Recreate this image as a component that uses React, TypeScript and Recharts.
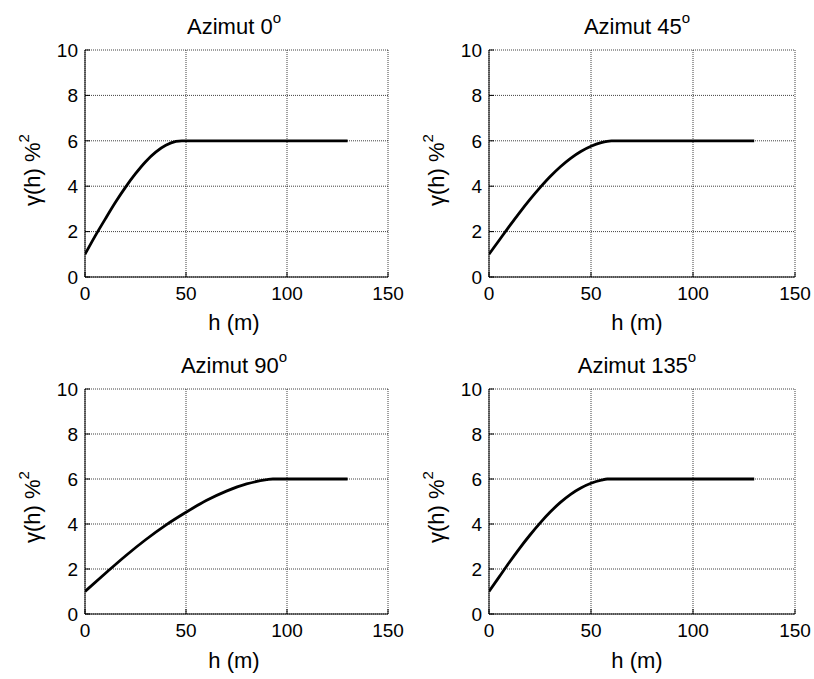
import React from 'react';
import { LineChart, Line, XAxis, YAxis, CartesianGrid } from 'recharts';

const FONT = '"Liberation Sans", Arial, Helvetica, sans-serif';

const xTicks = [0, 50, 100, 150];
const yTicks = [0, 2, 4, 6, 8, 10];
const azimuths = ['0', '45', '90', '135'];

const h0 = [0, 5, 10, 15, 20, 25, 30, 35, 40, 45, 48, 130];
const g0 = [1.0, 1.8, 2.55, 3.28, 3.95, 4.55, 5.08, 5.5, 5.8, 5.97, 6, 6];

const h45 = [0, 5, 10, 15, 20, 25, 30, 35, 40, 45, 50, 55, 60, 130];
const g45 = [1.0, 1.62, 2.24, 2.84, 3.41, 3.94, 4.43, 4.86, 5.23, 5.53, 5.76, 5.92, 6, 6];

const h90 = [0, 10, 20, 30, 40, 50, 60, 70, 80, 90, 93, 130];
const g90 = [1.0, 1.8, 2.58, 3.3, 3.95, 4.52, 5.04, 5.46, 5.78, 5.97, 6, 6];

const h135 = [0, 5, 10, 15, 20, 25, 30, 35, 40, 45, 50, 55, 58, 130];
const g135 = [1.0, 1.65, 2.3, 2.92, 3.5, 4.04, 4.53, 4.96, 5.32, 5.6, 5.81, 5.95, 6, 6];

const build = (hs: number[], gs: number[]) => hs.map((h, i) => ({ h, g: gs[i] }));

const datasets = [build(h0, g0), build(h45, g45), build(h90, g90), build(h135, g135)];

type Panel = {
  left: number;
  top: number;
  margin: { top: number; right: number; bottom: number; left: number };
  cx: number;
  titleY: number;
  xLabelY: number;
  yLabelX: number;
  yLabelY: number;
};

const panels: Panel[] = [
  { left: 0, top: 0, margin: { top: 50, right: 19, bottom: 33, left: 45 }, cx: 234, titleY: 34, xLabelY: 330, yLabelX: 40, yLabelY: 170 },
  { left: 407, top: 0, margin: { top: 50, right: 19, bottom: 33, left: 42 }, cx: 637, titleY: 34, xLabelY: 330, yLabelX: 444, yLabelY: 170 },
  { left: 0, top: 340, margin: { top: 49, right: 19, bottom: 36, left: 45 }, cx: 234, titleY: 373, xLabelY: 668, yLabelX: 40, yLabelY: 507 },
  { left: 407, top: 340, margin: { top: 49, right: 19, bottom: 36, left: 42 }, cx: 637, titleY: 373, xLabelY: 668, yLabelX: 444, yLabelY: 507 },
];

const tickStyle = { fill: '#000', fontSize: 19, fontFamily: FONT };

function Chart({ data, margin }: { data: { h: number; g: number }[]; margin: Panel['margin'] }) {
  return (
    <LineChart width={407} height={340} data={data} margin={margin}>
      <CartesianGrid xAxisId="b" yAxisId="l" stroke="#000" strokeDasharray="1 1" strokeOpacity={0.75} />
      <XAxis
        xAxisId="b"
        type="number"
        dataKey="h"
        domain={[0, 150]}
        ticks={xTicks}
        interval={0}
        tickSize={-5}
        tickMargin={15}
        height={30}
        stroke="#000"
        tick={tickStyle}
        allowDataOverflow
      />
      <XAxis
        xAxisId="t"
        orientation="top"
        type="number"
        dataKey="h"
        domain={[0, 150]}
        ticks={xTicks}
        interval={0}
        tickSize={-5}
        height={0}
        stroke="#000"
        tick={false}
        allowDataOverflow
      />
      <YAxis
        yAxisId="l"
        type="number"
        domain={[0, 10]}
        ticks={yTicks}
        interval={0}
        tickSize={-5}
        tickMargin={12}
        width={40}
        stroke="#000"
        tick={tickStyle}
        allowDataOverflow
      />
      <YAxis
        yAxisId="r"
        orientation="right"
        type="number"
        domain={[0, 10]}
        ticks={yTicks}
        interval={0}
        tickSize={-5}
        width={0}
        stroke="#000"
        tick={false}
        allowDataOverflow
      />
      <Line
        xAxisId="b"
        yAxisId="l"
        type="monotone"
        dataKey="g"
        stroke="#000"
        strokeWidth={2.8}
        dot={false}
        isAnimationActive={false}
      />
    </LineChart>
  );
}

export default function App() {
  return (
    <div style={{ position: 'absolute', left: 0, top: 0, width: 814, height: 679, background: '#fff', fontFamily: FONT }}>
      {panels.map((p, i) => (
        <div key={i} style={{ position: 'absolute', left: p.left, top: p.top, width: 407, height: 340 }}>
          <Chart data={datasets[i]} margin={p.margin} />
        </div>
      ))}
      <svg width={814} height={679} style={{ position: 'absolute', left: 0, top: 0, pointerEvents: 'none' }}>
        {panels.map((p, i) => (
          <g key={i} fontFamily={FONT} fill="#000">
            <text x={p.cx} y={p.titleY} textAnchor="middle" fontSize={22}>
              {`Azimut ${azimuths[i]}`}
              <tspan fontSize={15} dy={-11}>o</tspan>
            </text>
            <text x={p.cx} y={p.xLabelY} textAnchor="middle" fontSize={22}>
              h (m)
            </text>
            <text
              x={p.yLabelX}
              y={p.yLabelY}
              textAnchor="middle"
              fontSize={22}
              transform={`rotate(-90 ${p.yLabelX} ${p.yLabelY})`}
            >
              γ(h) %
              <tspan fontSize={15} dy={-11}>2</tspan>
            </text>
          </g>
        ))}
      </svg>
    </div>
  );
}
